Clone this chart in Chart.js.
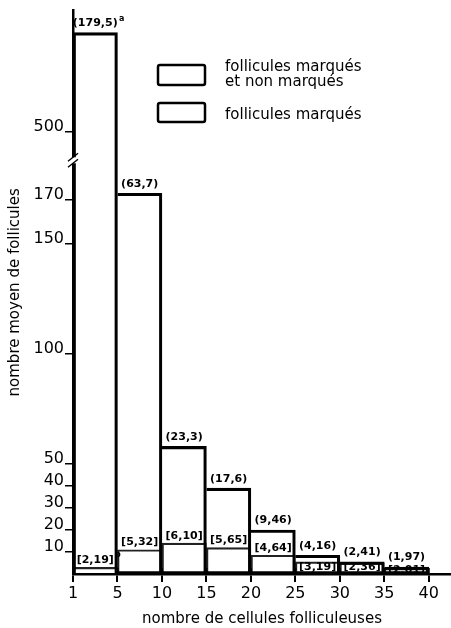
<!DOCTYPE html>
<html lang="fr">
<head>
<meta charset="UTF-8">
<title>Nombre moyen de follicules</title>
<script src="https://cdn.jsdelivr.net/npm/chart.js@4"></script>
<style>
  html, body { margin: 0; padding: 0; background: #fff; }
  #wrap { width: 451px; height: 628px; }
</style>
</head>
<body>
<div id="wrap"><canvas id="histo"></canvas></div>
<script>
// bornes des classes (nombre de cellules folliculeuses)
var binEdges = [1, 5, 10, 15, 20, 25, 30, 35, 40];

// hauteurs des barres
var totalMeans = [545, 173, 58, 39, 20, 8.5, 5.5, 3.2];
var markedMeans = [3, 11, 14, 12, 8.5, 5.5, 5, 2.5];

// valeurs notées au-dessus des barres
var totalNotes = ['(179,5)', '(63,7)', '(23,3)', '(17,6)', '(9,46)', '(4,16)', '(2,41)', '(1,97)'];
var markedNotes = ['[2,19]', '[5,32]', '[6,10]', '[5,65]', '[4,64]', '[3,19]', '[2,36]', '[2,01]'];
var noteMarks = ['a', 'b'];

var seriesNames = ['follicules marqués et non marqués', 'follicules marqués'];
var legendLines = [['follicules marqués', 'et non marqués'], ['follicules marqués']];

var yTickValues = [10, 20, 30, 40, 50, 100, 150, 170, 500];

// axe interrompu : au-dessus de la coupure on retire breakShift
var breakAt = 185;
var breakShift = 299;
var breakMark = 188;
function toAxis(v) { return v > breakAt ? v - breakShift : v; }

var textFont = '"DejaVu Sans", sans-serif';

function barPoints(values) {
    return values.map(function (v, i) { return { x: i + 0.5, y: toAxis(v) }; });
}

var notesPlugin = {
    id: 'notes',
    afterDatasetsDraw: function (chart) {
        var ctx = chart.ctx;
        var base = chart.scales.y.getPixelForValue(0);
        ctx.save();
        ctx.fillStyle = '#000';
        ctx.textAlign = 'center';
        [totalNotes, markedNotes].forEach(function (notes, d) {
            var meta = chart.getDatasetMeta(d);
            meta.data.forEach(function (bar, i) {
                var gap = d === 0 ? 4 : 2;
                var y = bar.y - gap;
                ctx.font = 'bold 11px ' + textFont;
                ctx.textBaseline = 'bottom';
                // pas de place au-dessus : on écrit dans la barre
                if (d === 1 && totalMeans[i] - markedMeans[i] < 5) {
                    ctx.textBaseline = 'middle';
                    y = (bar.y + base) / 2 - 1;
                }
                ctx.fillText(notes[i], bar.x, y);
                if (i === 0) {
                    var w = ctx.measureText(notes[i]).width;
                    ctx.font = 'bold 8px ' + textFont;
                    ctx.fillText(noteMarks[d], bar.x + w / 2 + 4, y - 6);
                }
            });
        });
        ctx.restore();
    }
};

var axisMarksPlugin = {
    id: 'axisMarks',
    afterDraw: function (chart) {
        var ctx = chart.ctx;
        var xs = chart.scales.x;
        var y = chart.scales.y.getPixelForValue(breakMark);
        var x = chart.chartArea.left;
        var bottom = chart.chartArea.bottom;
        ctx.save();
        // coupure de l'axe vertical
        ctx.fillStyle = '#fff';
        ctx.fillRect(x - 3, y - 3, 6, 6);
        ctx.strokeStyle = '#000';
        ctx.lineWidth = 1.5;
        [-3, 3].forEach(function (dy) {
            ctx.beginPath();
            ctx.moveTo(x - 5, y + dy + 4);
            ctx.lineTo(x + 5, y + dy - 4);
            ctx.stroke();
        });
        // graduations qui traversent l'axe horizontal
        ctx.lineWidth = 2;
        binEdges.forEach(function (e, i) {
            var px = xs.getPixelForValue(i);
            ctx.beginPath();
            ctx.moveTo(px, bottom - 6);
            ctx.lineTo(px, bottom);
            ctx.stroke();
        });
        ctx.restore();
    }
};

var boxLegendPlugin = {
    id: 'boxLegend',
    afterDraw: function (chart) {
        var ctx = chart.ctx;
        var rows = [{ top: 65, h: 20, base: 71 }, { top: 103, h: 19, base: 119 }];
        ctx.save();
        ctx.strokeStyle = '#000';
        ctx.lineWidth = 2.5;
        ctx.fillStyle = '#000';
        ctx.font = '15px ' + textFont;
        ctx.textBaseline = 'alphabetic';
        rows.forEach(function (r, i) {
            ctx.beginPath();
            ctx.roundRect(158, r.top, 47, r.h, 2);
            ctx.stroke();
            legendLines[i].forEach(function (line, k) {
                ctx.fillText(line, 225, r.base + k * 15);
            });
        });
        ctx.restore();
    }
};

var ctxHisto = document.getElementById('histo').getContext('2d');
var histo = new Chart(ctxHisto, {
    type: 'bar',
    data: {
        datasets: [{
            label: seriesNames[0],
            data: barPoints(totalMeans),
            backgroundColor: 'rgba(0,0,0,0)',
            borderColor: '#000',
            borderWidth: 2.5,
            // les barres décroissent : le bord gauche est déjà tracé par la voisine
            borderSkipped: function (c) { return c.dataIndex === 0 ? 'start' : 'left'; },
            grouped: false,
            barPercentage: 1,
            categoryPercentage: 1
        }, {
            label: seriesNames[1],
            data: barPoints(markedMeans),
            backgroundColor: 'rgba(0,0,0,0)',
            borderColor: '#222',
            borderWidth: 1.5,
            grouped: false,
            barPercentage: 1,
            categoryPercentage: 1
        }]
    },
    options: {
        responsive: true,
        maintainAspectRatio: false,
        animation: false,
        layout: { padding: { top: 10, right: 0, left: 0, bottom: 0 } },
        plugins: {
            legend: { display: false },
            tooltip: { enabled: false }
        },
        scales: {
            x: {
                type: 'linear',
                offset: false,
                min: 0,
                max: 8.5,
                afterBuildTicks: function (scale) {
                    scale.ticks = binEdges.map(function (e, i) { return { value: i }; });
                },
                afterFit: function (scale) { scale.height = 54; },
                ticks: {
                    autoSkip: false,
                    maxRotation: 0,
                    padding: 2,
                    color: '#000',
                    font: { family: textFont, size: 16 },
                    callback: function (value, index) { return binEdges[index]; }
                },
                grid: { drawOnChartArea: false, offset: false, tickLength: 8, color: '#000', lineWidth: 2 },
                border: { color: '#000', width: 2.5 },
                title: {
                    display: true,
                    text: 'nombre de cellules folliculeuses',
                    color: '#000',
                    font: { family: textFont, size: 15 },
                    padding: 0
                }
            },
            y: {
                min: 0,
                max: 256,
                afterBuildTicks: function (scale) {
                    scale.ticks = yTickValues.map(function (v) { return { value: toAxis(v) }; });
                },
                afterFit: function (scale) { scale.width = 73; },
                ticks: {
                    autoSkip: false,
                    padding: 1,
                    labelOffset: -5,
                    color: '#000',
                    font: { family: textFont, size: 16 },
                    callback: function (value, index) { return yTickValues[index]; }
                },
                grid: { drawOnChartArea: false, tickLength: 8, color: '#000', lineWidth: 1.5 },
                border: { color: '#000', width: 2.5 },
                title: {
                    display: true,
                    text: 'nombre moyen de follicules',
                    color: '#000',
                    font: { family: textFont, size: 15 },
                    padding: { top: 6, bottom: 0 }
                }
            }
        }
    },
    plugins: [notesPlugin, axisMarksPlugin, boxLegendPlugin]
});
</script>
</body>
</html>
